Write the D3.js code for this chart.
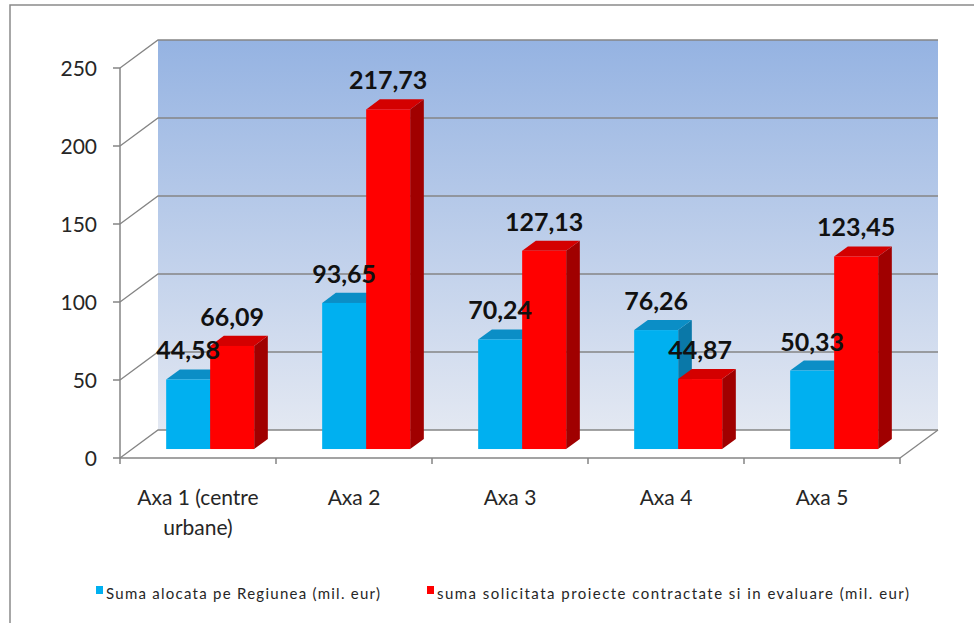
<!DOCTYPE html>
<html>
<head>
<meta charset="utf-8">
<script src="https://cdn.jsdelivr.net/npm/d3@7"></script>
<style>
  body { margin: 0; background: #fff; }
  svg { display: block; font-family: Lato, "Open Sans", sans-serif; }
</style>
</head>
<body>
<svg id="chart" width="974" height="623"></svg>
<script>
// chart data
var categories = ['Axa 1 (centre\nurbane)', 'Axa 2', 'Axa 3', 'Axa 4', 'Axa 5'];
var seriesNames = ['Suma alocata pe Regiunea (mil. eur)',
                   'suma solicitata proiecte contractate si in evaluare (mil. eur)'];
var alocata    = [44.58, 93.65, 70.24, 76.26, 50.33];
var solicitata = [66.09, 217.73, 127.13, 44.87, 123.45];
var yTicks = [0, 50, 100, 150, 200, 250];

var colors = [
  { front: '#00b0f0', top: '#0b8ec6', side: '#0a78a8' },
  { front: '#ff0000', top: '#d40000', side: '#a00000' }
];

var svg = d3.select('#chart');

// front plane of the plot box
var plotLeft = 120, plotRight = 900, plotBottom = 458, plotTop = 68;
// depth vector to the back wall
var depthX = 38, depthY = -28;
// bars sit in the middle of the depth
var barFront = 0.32, barBack = 0.68;

function project(x, y, t) {
  return [x + depthX * t, y + depthY * t];
}

var x0 = d3.scaleBand().domain(categories).range([plotLeft, plotRight]);
var x1 = d3.scaleBand().domain([0, 1]).range([0, x0.bandwidth()]).paddingOuter(0.773);
var y = d3.scaleLinear().domain([0, 250]).range([plotBottom, plotTop]);

var fmt = d3.formatLocale({ decimal: ',', thousands: '.', grouping: [3], currency: ['', ''] }).format('.2f');

// outer frame
svg.append('path')
   .attr('d', 'M10,623 L10,5 L974,5')
   .attr('fill', 'none')
   .attr('stroke', '#8a8a8a')
   .attr('stroke-width', 1.5);

// back wall gradient
var grad = svg.append('defs').append('linearGradient')
              .attr('id', 'wall').attr('x1', 0).attr('y1', 0).attr('x2', 0).attr('y2', 1);
grad.append('stop').attr('offset', '0%').attr('stop-color', '#95b3e2');
grad.append('stop').attr('offset', '100%').attr('stop-color', '#e3e8f2');

var wallTL = project(plotLeft, y(250), 1), wallBR = project(plotRight, y(0), 1);
svg.append('rect')
   .attr('x', wallTL[0]).attr('y', wallTL[1])
   .attr('width', wallBR[0] - wallTL[0]).attr('height', wallBR[1] - wallTL[1])
   .attr('fill', 'url(#wall)');

// gridlines: side wall diagonal plus back wall line
svg.append('g').selectAll('path').data(yTicks).enter().append('path')
   .attr('d', function(v) {
     var a = project(plotLeft, y(v), 0), b = project(plotLeft, y(v), 1), c = project(plotRight, y(v), 1);
     return 'M' + a + 'L' + b + 'L' + c;
   })
   .attr('fill', 'none')
   .attr('stroke', '#858585')
   .attr('stroke-width', 1.3);

// floor right edge
var fr0 = project(plotRight, y(0), 0), fr1 = project(plotRight, y(0), 1);
svg.append('line')
   .attr('x1', fr0[0]).attr('y1', fr0[1]).attr('x2', fr1[0]).attr('y2', fr1[1])
   .attr('stroke', '#858585').attr('stroke-width', 1.3);

// y axis
var yAxis = svg.append('g');
yAxis.append('line')
     .attr('x1', plotLeft).attr('x2', plotLeft).attr('y1', y(250)).attr('y2', y(0))
     .attr('stroke', '#858585').attr('stroke-width', 1.5);
yAxis.selectAll('line.tick').data(yTicks).enter().append('line')
     .attr('class', 'tick')
     .attr('x1', plotLeft - 7).attr('x2', plotLeft)
     .attr('y1', function(v) { return y(v); }).attr('y2', function(v) { return y(v); })
     .attr('stroke', '#858585').attr('stroke-width', 1.5);
yAxis.selectAll('text').data(yTicks).enter().append('text')
     .attr('x', 97)
     .attr('y', function(v) { return y(v); })
     .attr('dy', '0.36em')
     .attr('text-anchor', 'end')
     .attr('font-size', 21)
     .attr('fill', '#262626')
     .text(function(v) { return v; });

// x axis
var xAxis = svg.append('g');
xAxis.append('line')
     .attr('x1', plotLeft).attr('x2', plotRight).attr('y1', plotBottom).attr('y2', plotBottom)
     .attr('stroke', '#858585').attr('stroke-width', 1.5);
var bounds = categories.map(function(c) { return x0(c); }).concat([plotRight]);
xAxis.selectAll('line.tick').data(bounds).enter().append('line')
     .attr('class', 'tick')
     .attr('x1', function(d) { return d; }).attr('x2', function(d) { return d; })
     .attr('y1', plotBottom).attr('y2', plotBottom + 6)
     .attr('stroke', '#858585').attr('stroke-width', 1.5);
xAxis.selectAll('text').data(categories).enter().append('text')
     .attr('x', function(c) { return x0(c) + x0.bandwidth() / 2; })
     .attr('y', 505)
     .attr('text-anchor', 'middle')
     .attr('font-size', 21)
     .attr('fill', '#262626')
     .each(function(c) {
       var t = d3.select(this);
       c.split('\n').forEach(function(line, i) {
         t.append('tspan')
          .attr('x', t.attr('x'))
          .attr('dy', i === 0 ? 0 : 30)
          .text(line);
       });
     });

// bars
var series = [alocata, solicitata];
var bars = [];
categories.forEach(function(c, i) {
  series.forEach(function(values, s) {
    bars.push({ cat: c, s: s, v: values[i] });
  });
});

var barG = svg.append('g').selectAll('g').data(bars).enter().append('g');
barG.each(function(d) {
  var g = d3.select(this);
  var xa = x0(d.cat) + x1(d.s), xb = xa + x1.bandwidth();
  var f0 = project(xa, y(d.v), barFront), f1 = project(xb, y(d.v), barFront);
  var fb = project(xb, y(0), barFront);
  var b0 = project(xa, y(d.v), barBack), b1 = project(xb, y(d.v), barBack);
  var bb = project(xb, y(0), barBack);
  var col = colors[d.s];
  // side face
  g.append('path').attr('d', 'M' + f1 + 'L' + b1 + 'L' + bb + 'L' + fb + 'Z').attr('fill', col.side);
  // top face
  g.append('path').attr('d', 'M' + f0 + 'L' + f1 + 'L' + b1 + 'L' + b0 + 'Z').attr('fill', col.top);
  // front face
  g.append('rect')
   .attr('x', f0[0]).attr('y', f0[1])
   .attr('width', f1[0] - f0[0]).attr('height', fb[1] - f0[1])
   .attr('fill', col.front);
});

// data labels
svg.append('g').selectAll('text').data(bars).enter().append('text')
   .attr('x', function(d) { return project(x0(d.cat) + x1(d.s) + x1.bandwidth() / 2, 0, barFront)[0]; })
   .attr('y', function(d) { return project(0, y(d.v), barFront)[1] - 20; })
   .attr('text-anchor', 'middle')
   .attr('font-size', 25)
   .attr('font-weight', 'bold')
   .attr('fill', '#111')
   .text(function(d) { return fmt(d.v); });

// legend
var legend = [
  { name: seriesNames[0], x: 96, len: 274 },
  { name: seriesNames[1], x: 427, len: 472 }
];
var lg = svg.append('g').selectAll('g').data(legend).enter().append('g');
lg.append('rect')
  .attr('x', function(d) { return d.x; }).attr('y', 586)
  .attr('width', 7).attr('height', 8)
  .attr('fill', function(d, i) { return colors[i].front; });
lg.append('text')
  .attr('x', function(d) { return d.x + 10; })
  .attr('y', 599)
  .attr('font-size', 15)
  .attr('fill', '#262626')
  .attr('textLength', function(d) { return d.len; })
  .attr('lengthAdjust', 'spacing')
  .text(function(d) { return d.name; });
</script>
</body>
</html>
